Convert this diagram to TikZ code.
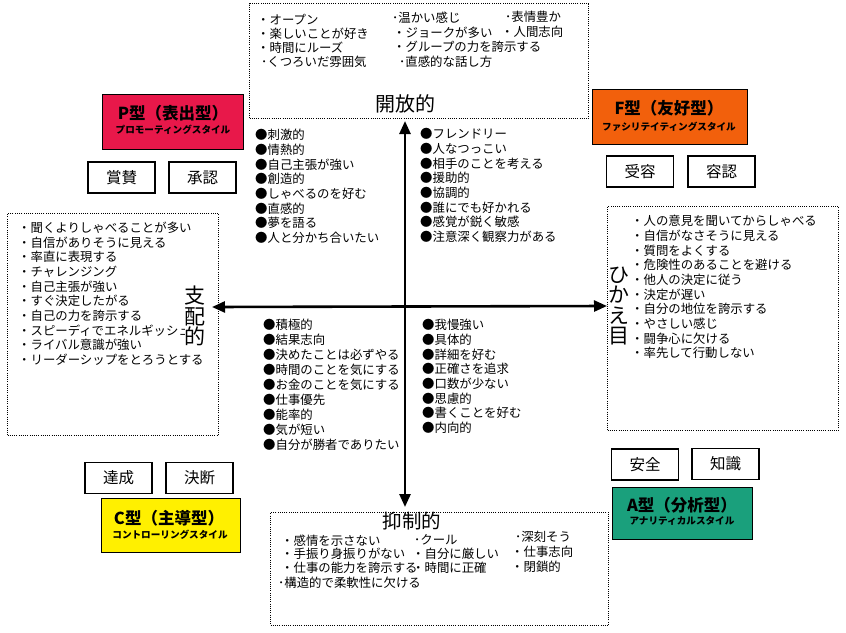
\documentclass[tikz,border=0pt]{standalone}
\usepackage{fontspec}
\setmainfont{Noto Sans CJK JP}
\usetikzlibrary{arrows.meta}
\definecolor{pred}{RGB}{232,24,74}
\definecolor{forange}{RGB}{242,96,12}
\definecolor{cyellow}{RGB}{255,240,0}
\definecolor{ateal}{RGB}{26,160,124}
\tikzset{
  dotbox/.style={draw, line width=1pt, dash pattern=on 1pt off 1.2pt, anchor=north west, inner sep=0pt},
  item/.style={anchor=west, inner sep=0pt, font=\fontsize{12.4}{14}\selectfont},
  typebox/.style={draw, line width=1.2pt, anchor=north west, inner sep=0pt},
  ttl/.style={inner sep=0pt, font=\fontsize{16.5}{18}\selectfont\bfseries},
  subttl/.style={inner sep=0pt, font=\fontsize{9.6}{11}\selectfont\bfseries},
  wbox/.style={draw, line width=1.3pt, fill=white, minimum width=67pt, minimum height=31pt, inner sep=0pt, font=\fontsize{15.5}{17}\selectfont},
  axis/.style={line width=2.6pt, {Triangle[length=13pt,width=11pt]}-{Triangle[length=13pt,width=11pt]}},
  axlabel/.style={inner sep=0pt, font=\fontsize{20}{21}\selectfont},
  vlabel/.style={inner sep=0pt, align=center, font=\fontsize{21}{20.5}\selectfont}
}
\begin{document}
\begin{tikzpicture}[x=1pt,y=-1pt]
\useasboundingbox (0,0) rectangle (846,632);
\fill[white] (0,0) rectangle (846,632);

% dotted boxes
\node[dotbox, minimum width=339pt, minimum height=115pt] (topbox) at (249,3) {};
\node[dotbox, minimum width=211pt, minimum height=222pt] (leftbox) at (7,213) {};
\node[dotbox, minimum width=231pt, minimum height=224pt] (rightbox) at (607,206) {};
\node[dotbox, minimum width=338pt, minimum height=113pt] (botbox) at (270,512) {};

% top box texts
\node[item] (t1) at (257,20) {・オープン};
\node[item] (t2) at (257,34) {・楽しいことが好き};
\node[item] (t3) at (257,48) {・時間にルーズ};
\node[item] (t4) at (261,62) {･くつろいだ雰囲気};
\node[item] (t5) at (392,18) {･温かい感じ};
\node[item] (t6) at (393,33) {・ジョークが多い};
\node[item] (t7) at (393,47) {・グループの力を誇示する};
\node[item] (t8) at (399,62) {･直感的な話し方};
\node[item] (t9) at (505,17) {･表情豊か};
\node[item] (t10) at (501,32) {・人間志向};
\node[axlabel] (open) at (405,104) {開放的};

% bottom box texts
\node[axlabel, font=\fontsize{19.5}{20}\selectfont] (restr) at (412,521) {抑制的};
\node[item] (b1) at (281,541) {・感情を示さない};
\node[item] (b2) at (281,554) {・手振り身振りがない};
\node[item] (b3) at (281,568) {・仕事の能力を誇示する};
\node[item] (b4) at (278,583) {･構造的で柔軟性に欠ける};
\node[item] (b5) at (414,540) {･クール};
\node[item] (b6) at (412,554) {・自分に厳しい};
\node[item] (b7) at (412,568) {・時間に正確};
\node[item] (b8) at (515,537) {･深刻そう};
\node[item] (b9) at (511,552) {・仕事志向};
\node[item] (b10) at (511,567) {・閉鎖的};

% left box list
\foreach \t [count=\i] in {・聞くよりしゃべることが多い,・自信がありそうに見える,・率直に表現する,・チャレンジング,・自己主張が強い,・すぐ決定したがる,・自己の力を誇示する,・スピーディでエネルギッシュ,・ライバル意識が強い,・リーダーシップをとろうとする}
  \node[item] (lb\i) at (18,{228+(\i-1)*14.6}) {\t};

% right box list
\foreach \t [count=\i] in {・人の意見を聞いてからしゃべる,・自信がなさそうに見える,・質問をよくする,・危険性のあることを避ける,・他人の決定に従う,・決定が遅い,・自分の地位を誇示する,・やさしい感じ,・闘争心に欠ける,・率先して行動しない}
  \node[item] (rb\i) at (631,{221+(\i-1)*14.7}) {\t};

% quadrant lists
\foreach \t [count=\i] in {●刺激的,●情熱的,●自己主張が強い,●創造的,●しゃべるのを好む,●直感的,●夢を語る,●人と分かち合いたい}
  \node[item] (ul\i) at (255,{135+(\i-1)*14.7}) {\t};
\foreach \t [count=\i] in {●フレンドリー,●人なつっこい,●相手のことを考える,●援助的,●協調的,●誰にでも好かれる,●感覚が鋭く敏感,●注意深く観察力がある}
  \node[item] (ur\i) at (420,{134+(\i-1)*14.7}) {\t};
\foreach \t [count=\i] in {●積極的,●結果志向,●決めたことは必ずやる,●時間のことを気にする,●お金のことを気にする,●仕事優先,●能率的,●気が短い,●自分が勝者でありたい}
  \node[item] (ll\i) at (263,{325+(\i-1)*15}) {\t};
\foreach \t [count=\i] in {●我慢強い,●具体的,●詳細を好む,●正確さを追求,●口数が少ない,●思慮的,●書くことを好む,●内向的}
  \node[item] (lr\i) at (422,{325+(\i-1)*14.7}) {\t};

% axes
\coordinate (vt) at (405,121);
\coordinate (vb) at (405,507);
\coordinate (hl) at (212,307);
\coordinate (hr) at (607,306);
\draw[axis] (vt) -- (vb);
\draw[axis] (hl) -- (hr);

% vertical labels
\node[vlabel, fill=white] (dom) at (195,316) {支\\配\\的};
\node[vlabel] (hik) at (619,306) {ひ\\か\\え\\目};

% type boxes
\node[typebox, fill=pred, minimum width=141pt, minimum height=55pt] (P) at (102,94) {};
\node[ttl] (Pt) at (173,113) {P型（表出型）};
\node[subttl] (Ps) at (173,130) {プロモーティングスタイル};

\node[typebox, fill=forange, minimum width=155pt, minimum height=55pt] (F) at (592,89) {};
\node[ttl] (Ft) at (669,108) {F型（友好型）};
\node[subttl] (Fs) at (669,127) {ファシリテイティングスタイル};

\node[typebox, fill=cyellow, minimum width=139pt, minimum height=54pt] (C) at (101,498) {};
\node[ttl] (Ct) at (169,518) {C型（主導型）};
\node[subttl] (Cs) at (170,535) {コントローリングスタイル};

\node[typebox, fill=ateal, minimum width=140pt, minimum height=52pt] (A) at (612,487) {};
\node[ttl] (At) at (682,505) {A型（分析型）};
\node[subttl] (As) at (682,521) {アナリティカルスタイル};

% word boxes
\node[wbox] (w1) at (121.5,177.5) {賞賛};
\node[wbox] (w2) at (202.5,177.5) {承認};
\node[wbox] (w3) at (640,171.5) {受容};
\node[wbox] (w4) at (721.5,171.5) {容認};
\node[wbox] (w5) at (118.5,478) {達成};
\node[wbox] (w6) at (199.5,478) {決断};
\node[wbox] (w7) at (645,464.5) {安全};
\node[wbox] (w8) at (725.5,464) {知識};
\end{tikzpicture}
\end{document}
